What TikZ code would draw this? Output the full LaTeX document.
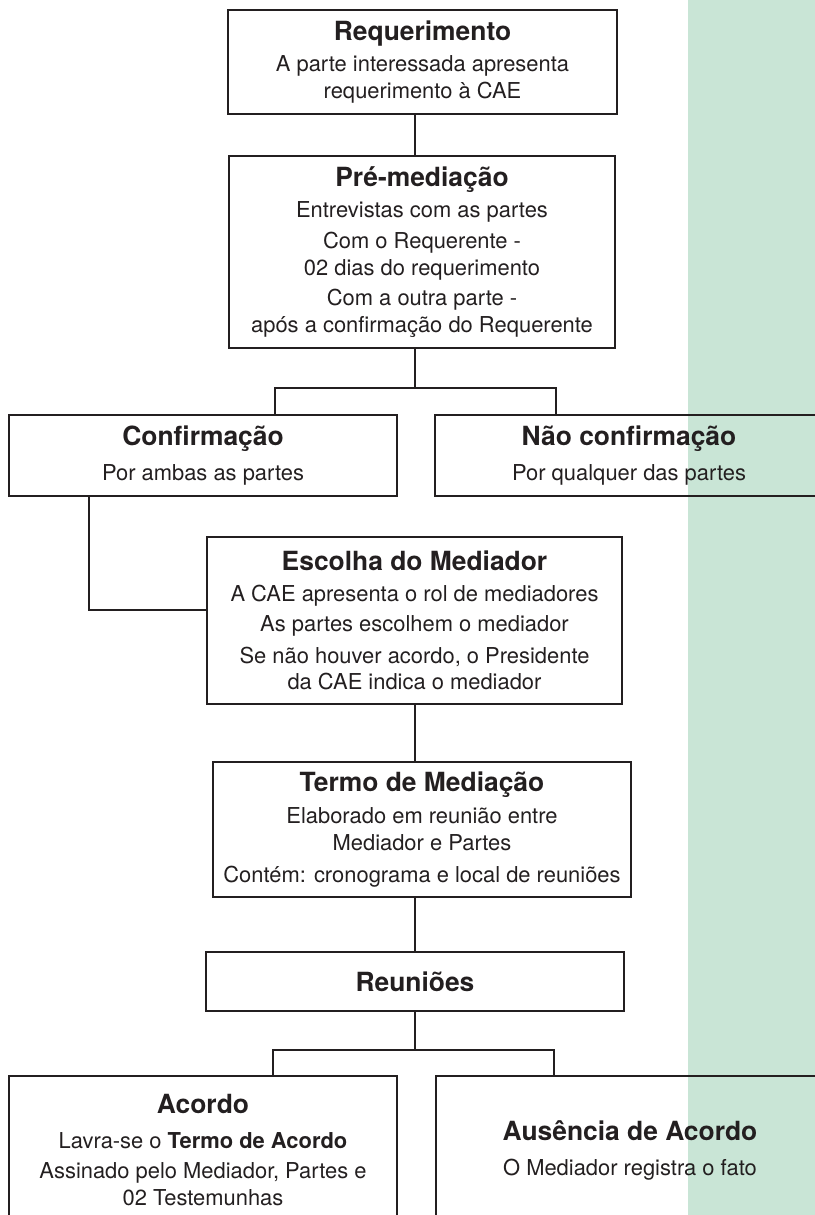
\documentclass[tikz,border=0pt]{standalone}
\usepackage{fontspec}
\setmainfont{TeX Gyre Heros}
\definecolor{mint}{HTML}{C9E5D6}
\definecolor{ink}{HTML}{231F20}
\newcommand{\ttl}[1]{{\fontsize{26.5}{30}\selectfont\bfseries #1}}
\begin{document}
\begin{tikzpicture}[x=1bp,y=-1bp,font=\fontsize{22}{27}\selectfont,
  box/.style={draw=ink,line width=1.8bp,text=ink,align=center,inner sep=0pt},
  link/.style={draw=ink,line width=1.8bp}]
\useasboundingbox (0,0) rectangle (815,1215);
\clip (0,0) rectangle (815,1215);
\fill[mint] (688,0) rectangle (815,1215);
\node[box,minimum width=389bp,minimum height=104bp] (req) at (422.5,62) {\ttl{Requerimento}\\[4bp]A parte interessada apresenta\\requerimento à CAE};
\node[box,minimum width=386bp,minimum height=192bp] (pre) at (422,252) {\ttl{Pré-mediação}\\[4bp]Entrevistas com as partes\\[4bp]Com o Requerente -\\02 dias do requerimento\\[3bp]Com a outra parte -\\após a confirmação do Requerente};
\node[box,minimum width=388bp,minimum height=81bp] (conf) at (203,455.5) {\ttl{Confirmação}\\[8bp]Por ambas as partes};
\node[box,minimum width=388bp,minimum height=81bp] (nao) at (629,455.5) {\ttl{Não confirmação}\\[8bp]Por qualquer das partes};
\node[box,minimum width=415bp,minimum height=167bp] (esc) at (414.5,620.5) {\ttl{Escolha do Mediador}\\[4bp]A CAE apresenta o rol de mediadores\\[3bp]As partes escolhem o mediador\\[5bp]Se não houver acordo, o Presidente\\da CAE indica o mediador};
\node[box,minimum width=418bp,minimum height=135bp] (termo) at (422,829.5) {\ttl{Termo de Mediação}\\[5bp]Elaborado em reunião entre\\Mediador e Partes\\[5bp]Contém: cronograma e local de reuniões};
\node[box,minimum width=418bp,minimum height=59bp] (reun) at (415,981.5) {\ttl{Reuniões}};
\node[box,minimum width=388bp,minimum height=148bp] (acordo) at (203,1150) {\ttl{Acordo}\\[8bp]Lavra-se o \textbf{Termo de Acordo}\\[4bp]Assinado pelo Mediador, Partes e\\02 Testemunhas};
\node[box,minimum width=388bp,minimum height=148bp] (aus) at (630,1150) {\ttl{Ausência de Acordo}\\[8bp]O Mediador registra o fato};
\coordinate (spine) at (415,0);
\coordinate (f1) at (415,388);
\coordinate (f1l) at (275,388);
\coordinate (f1r) at (556,388);
\coordinate (bend) at (89,610);
\coordinate (f2) at (415,1050);
\coordinate (f2l) at (273,1050);
\coordinate (f2r) at (554,1050);
\draw[link] (req.south -| spine) -- (pre.north -| spine);
\draw[link] (pre.south -| spine) -- (f1);
\draw[link] (conf.north -| f1l) -- (f1l) -- (f1r) -- (nao.north -| f1r);
\draw[link] (conf.south -| bend) |- (esc.west |- bend);
\draw[link] (esc.south -| spine) -- (termo.north -| spine);
\draw[link] (termo.south -| spine) -- (reun.north -| spine);
\draw[link] (reun.south -| spine) -- (f2);
\draw[link] (acordo.north -| f2l) -- (f2l) -- (f2r) -- (aus.north -| f2r);
\end{tikzpicture}
\end{document}
